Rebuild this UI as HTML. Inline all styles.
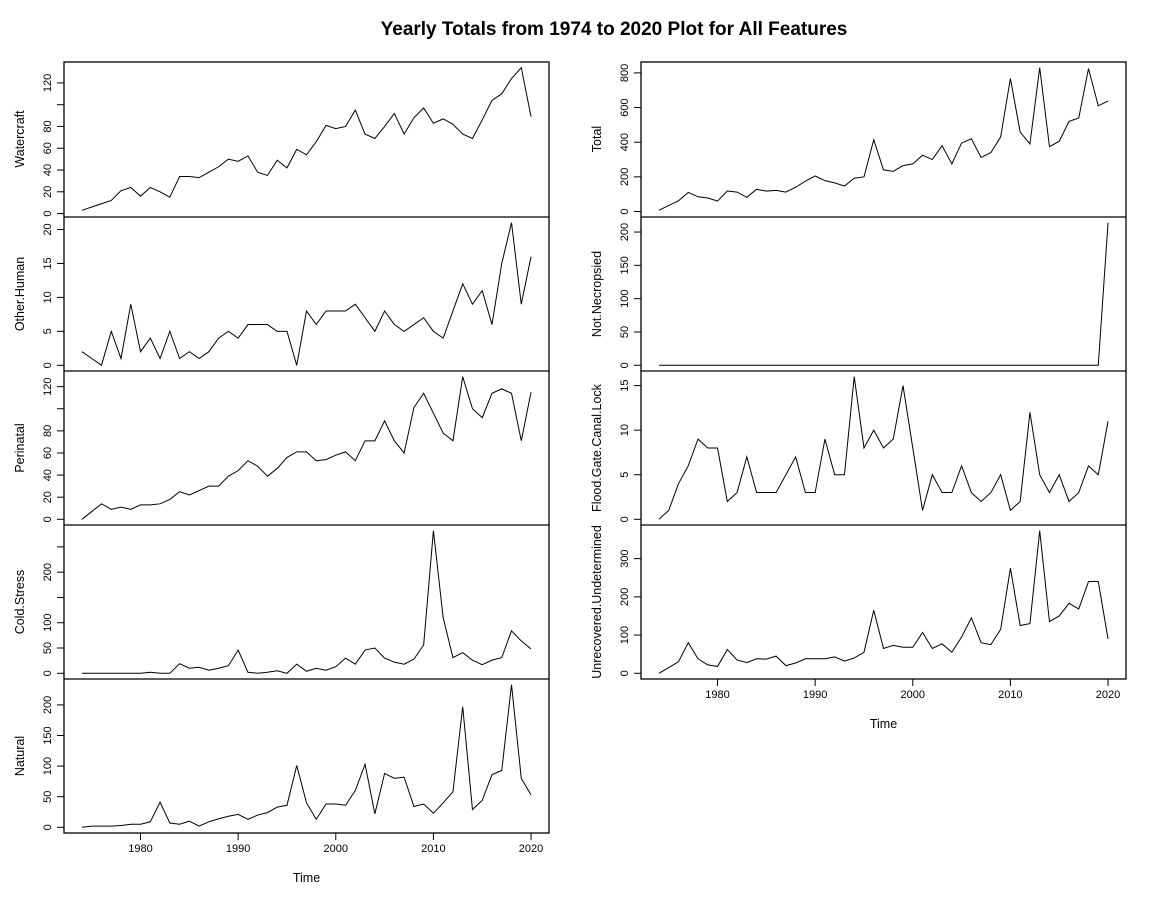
<!DOCTYPE html>
<html><head><meta charset="utf-8"><style>
body{margin:0;background:#fff;}
svg{display:block;font-family:"Liberation Sans",Arial,sans-serif;}
</style></head><body>
<svg id="chart" width="1152" height="910" viewBox="0 0 1152 910">
<text x="614" y="35" text-anchor="middle" font-size="19" font-weight="bold">Yearly Totals from 1974 to 2020 Plot for All Features</text>
</svg>
<script>
const years = [];
for (let y = 1974; y <= 2020; y++) years.push(y);
const xTickYears = [1980, 1990, 2000, 2010, 2020];

const watercraft = [3,6,9,12,21,24,16,24,20,15,34,34,33,38,43,50,48,53,38,35,49,42,59,54,66,81,78,80,95,73,69,80,92,73,88,97,83,87,82,73,69,86,104,110,124,134,89];
const otherHuman = [2,1,0,5,1,9,2,4,1,5,1,2,1,2,4,5,4,6,6,6,5,5,0,8,6,8,8,8,9,7,5,8,6,5,6,7,5,4,8,12,9,11,6,15,21,9,16];
const perinatal = [0,7,14,9,11,9,13,13,14,18,25,22,26,30,30,39,44,53,48,39,46,56,61,61,53,54,58,61,53,71,71,89,71,60,101,114,96,78,71,129,100,92,114,118,114,71,115];
const coldStress = [0,0,0,0,0,0,0,2,0,0,19,10,12,6,10,15,46,2,0,2,5,0,18,4,10,6,13,30,18,46,50,30,22,18,28,56,282,110,31,41,26,17,26,31,84,64,48];
const natural = [0,2,2,2,3,5,5,9,41,7,5,10,2,9,14,18,21,13,20,24,33,36,101,40,13,38,38,36,60,103,22,88,80,82,34,38,23,40,58,197,29,44,86,93,233,80,53];
const total = [7,35,62,110,85,78,60,118,112,82,128,118,122,112,140,175,205,178,165,147,192,200,414,240,232,265,275,325,300,380,275,395,420,312,340,430,768,458,390,830,375,405,520,540,825,610,638];
const notNecropsied = [0,0,0,0,0,0,0,0,0,0,0,0,0,0,0,0,0,0,0,0,0,0,0,0,0,0,0,0,0,0,0,0,0,0,0,0,0,0,0,0,0,0,0,0,0,0,214];
const floodGate = [0,1,4,6,9,8,8,2,3,7,3,3,3,5,7,3,3,9,5,5,16,8,10,8,9,15,8,1,5,3,3,6,3,2,3,5,1,2,12,5,3,5,2,3,6,5,11];
const unrecovered = [0,15,30,80,38,22,18,62,35,28,38,37,45,20,27,38,38,38,43,32,40,55,165,65,73,68,68,107,65,77,55,95,145,80,75,115,275,125,130,373,135,150,183,168,240,240,90];

const watercraftTicks = [0,20,40,60,80,100,120];
const watercraftLabels = ["0","20","40","60","80","","120"];
const otherHumanTicks = [0,5,10,15,20];
const otherHumanLabels = ["0","5","10","15","20"];
const perinatalTicks = [0,20,40,60,80,100,120];
const perinatalLabels = ["0","20","40","60","80","","120"];
const coldStressTicks = [0,50,100,150,200,250];
const coldStressLabels = ["0","50","100","","200",""];
const naturalTicks = [0,50,100,150,200];
const naturalLabels = ["0","50","100","150","200"];
const totalTicks = [0,200,400,600,800];
const totalLabels = ["0","200","400","600","800"];
const notNecTicks = [0,50,100,150,200];
const notNecLabels = ["0","50","100","150","200"];
const floodTicks = [0,5,10,15];
const floodLabels = ["0","5","10","15"];
const unrecTicks = [0,100,200,300];
const unrecLabels = ["0","100","200","300"];

const svg = document.getElementById('chart');
const NS = 'http://www.w3.org/2000/svg';
function mk(tag, attrs, parent) {
  const e = document.createElementNS(NS, tag);
  for (const k in attrs) e.setAttribute(k, attrs[k]);
  (parent || svg).appendChild(e);
  return e;
}
const panelTops = [62, 217, 371, 525, 679];
const panelH = 154;
const cols = [{x0: 64, x1: 549}, {x0: 641, x1: 1126}];
const yr0 = 1974 - (2020 - 1974) * 0.04, yr1 = 2020 + (2020 - 1974) * 0.04;

function panel(col, row, name, title, data, ticks, labels, slug) {
  const c = cols[col];
  const top = panelTops[row], bot = top + panelH;
  const g = mk('g', {});
  
  
  const mn = Math.min(...data), mx = Math.max(...data);
  const pad = (mx - mn) * 0.04;
  const lo = mn - pad, hi = mx + pad;
  const xs = v => c.x0 + (v - yr0) / (yr1 - yr0) * (c.x1 - c.x0);
  const ys = v => bot - (v - lo) / (hi - lo) * panelH;
  let d = '';
  data.forEach((v, i) => { d += (i ? 'L' : 'M') + xs(years[i]).toFixed(2) + ',' + ys(v).toFixed(2); });
  const line = mk('path', {d: d, fill: 'none', stroke: '#000', 'stroke-width': 1}, g);
  
  
  ticks.forEach((t, i) => {
    const y = ys(t);
    mk('line', {x1: c.x0 - 7, x2: c.x0, y1: y, y2: y, stroke: '#000'}, g);
    if (labels[i]) {
      const tx = c.x0 - 13;
      const tl = mk('text', {x: tx, y: y, 'font-size': 11, 'text-anchor': 'middle', transform: `rotate(-90 ${tx} ${y})`}, g);
      
      
      tl.textContent = labels[i];
    }
  });
  const ax = mk('line', {x1: c.x0 - 7 + 7, x2: c.x0, y1: ys(ticks[0]), y2: ys(ticks[ticks.length - 1]), stroke: '#000'}, g);
  mk('line', {x1: c.x0, x2: c.x0, y1: ys(ticks[0]), y2: ys(ticks[ticks.length - 1]), stroke: '#000'}, g);
  const cy = (top + bot) / 2, tx2 = c.x0 - 40;
  const yt = mk('text', {x: tx2, y: cy, 'font-size': 12.5, 'text-anchor': 'middle', transform: `rotate(-90 ${tx2} ${cy})`}, g);
  
  
  yt.textContent = title;
}
const frames = [[0, 62, 833], [1, 62, 679]];
frames.forEach(f => {
  const c = cols[f[0]];
  const r = mk('rect', {x: c.x0, y: f[1], width: c.x1 - c.x0, height: f[2] - f[1], fill: 'none', stroke: '#000', 'stroke-width': 1.3});
  
  
  const rows = f[0] === 0 ? [1, 2, 3, 4] : [1, 2, 3];
  rows.forEach(i => mk('line', {x1: c.x0, x2: c.x1, y1: panelTops[i], y2: panelTops[i], stroke: '#000', 'stroke-width': 1.3}));
  const xs = v => c.x0 + (v - yr0) / (yr1 - yr0) * (c.x1 - c.x0);
  const by = f[2];
  mk('line', {x1: xs(xTickYears[0]), x2: xs(xTickYears[xTickYears.length - 1]), y1: by, y2: by, stroke: '#000'});
  xTickYears.forEach(yv => {
    mk('line', {x1: xs(yv), x2: xs(yv), y1: by, y2: by + 7, stroke: '#000'});
    const t = mk('text', {x: xs(yv), y: by + 19, 'font-size': 11, 'text-anchor': 'middle'});
    
    
    t.textContent = yv;
  });
  const tt = mk('text', {x: (c.x0 + c.x1) / 2, y: by + 49, 'font-size': 12.5, 'text-anchor': 'middle'});
  
  
  tt.textContent = 'Time';
});
panel(0, 0, 'w', 'Watercraft', watercraft, watercraftTicks, watercraftLabels, 'watercraft');
panel(0, 1, 'o', 'Other.Human', otherHuman, otherHumanTicks, otherHumanLabels, 'other-human');
panel(0, 2, 'p', 'Perinatal', perinatal, perinatalTicks, perinatalLabels, 'perinatal');
panel(0, 3, 'c', 'Cold.Stress', coldStress, coldStressTicks, coldStressLabels, 'cold-stress');
panel(0, 4, 'n', 'Natural', natural, naturalTicks, naturalLabels, 'natural');
panel(1, 0, 't', 'Total', total, totalTicks, totalLabels, 'total');
panel(1, 1, 'nn', 'Not.Necropsied', notNecropsied, notNecTicks, notNecLabels, 'not-necropsied');
panel(1, 2, 'f', 'Flood.Gate.Canal.Lock', floodGate, floodTicks, floodLabels, 'flood-gate');
panel(1, 3, 'u', 'Unrecovered.Undetermined', unrecovered, unrecTicks, unrecLabels, 'unrecovered');
</script>
</body></html>
